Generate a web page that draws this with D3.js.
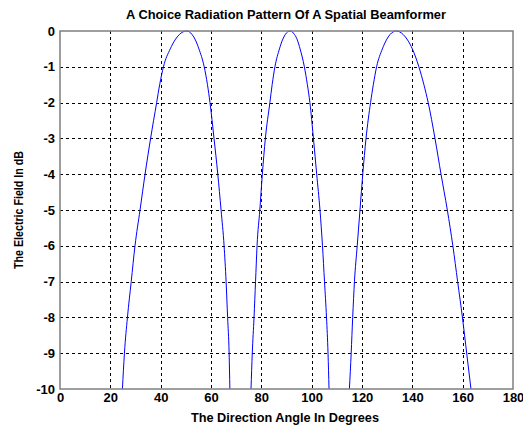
<!DOCTYPE html>
<html>
<head>
<meta charset="utf-8">
<script src="https://cdn.jsdelivr.net/npm/d3@7"></script>
<style>
  html, body { margin: 0; padding: 0; background: #fff; }
  svg text { font-family: "Liberation Sans", Arial, sans-serif; font-weight: bold; fill: #000; }
</style>
</head>
<body>
<svg id="chart" width="523" height="427"></svg>
<script>
// Field level (dB) at which each lobe's edges were sampled
const levels = [0, -0.1, -0.25, -0.5, -1, -1.5, -2, -3, -4, -5, -6, -7, -8, -9, -10];

// Lobe 1: left / right edge angles (degrees) at each level
const lobe1Left  = [50.3, 47.4, 45.7, 43.8, 41.1, 39.6, 38.4, 36.0, 33.8, 31.8, 29.8, 28.3, 26.8, 25.6, 24.8];
const lobe1Right = [50.3, 52.5, 53.8, 55.2, 57.3, 58.6, 59.6, 61.2, 62.7, 64.0, 65.2, 66.0, 66.6, 67.2, 67.5];

// Lobe 2
const lobe2Left  = [91.4, 89.5, 88.4, 87.2, 85.4, 84.3, 83.4, 81.6, 80.4, 79.4, 78.3, 77.7, 77.1, 76.4, 75.9];
const lobe2Right = [91.4, 93.2, 94.3, 95.4, 97.1, 98.3, 99.3, 100.7, 102.0, 103.3, 104.3, 105.1, 105.9, 106.5, 106.9];

// Lobe 3
const lobe3Left  = [133.6, 131.1, 129.7, 128.1, 125.8, 124.5, 123.4, 121.6, 120.3, 119.2, 118.1, 117.0, 116.3, 115.7, 115.0];
const lobe3Right = [133.6, 136.4, 138.1, 140.0, 142.6, 144.6, 146.3, 149.0, 151.4, 153.9, 156.1, 158.0, 159.9, 161.6, 163.3];

const xTicks = [0, 20, 40, 60, 80, 100, 120, 140, 160, 180];
const yTicks = [0, -1, -2, -3, -4, -5, -6, -7, -8, -9, -10];

const titleText = "A Choice Radiation Pattern Of A Spatial Beamformer";
const xLabelText = "The Direction Angle In Degrees";
const yLabelText = "The Electric Field In dB";

const svg = d3.select("#chart");
const plotL = 60, plotR = 513, plotT = 31, plotB = 389;

const x = d3.scaleLinear().domain([0, 180]).range([plotL, plotR]);
const y = d3.scaleLinear().domain([-10, 0]).range([plotB, plotT]);

// Dashed grid
const grid = svg.append("g");
grid.selectAll("line.gx").data(xTicks.slice(1, -1)).join("line")
  .attr("x1", d => Math.round(x(d)) + 0.5).attr("x2", d => Math.round(x(d)) + 0.5)
  .attr("y1", plotT).attr("y2", plotB)
  .attr("stroke", "#000").attr("stroke-width", 1).attr("stroke-dasharray", "3,3");
grid.selectAll("line.gy").data(yTicks.slice(1, -1)).join("line")
  .attr("y1", d => Math.round(y(d)) + 0.5).attr("y2", d => Math.round(y(d)) + 0.5)
  .attr("x1", plotL).attr("x2", plotR)
  .attr("stroke", "#000").attr("stroke-width", 1).attr("stroke-dasharray", "3,3");

// Lobes, each traced from the left edge over the peak to the right edge
const lobes = [
  [lobe1Left, lobe1Right],
  [lobe2Left, lobe2Right],
  [lobe3Left, lobe3Right]
].map(([l, r]) => {
  const pts = [];
  for (let i = levels.length - 1; i >= 0; i--) pts.push([l[i], levels[i]]);
  for (let i = 1; i < levels.length; i++) pts.push([r[i], levels[i]]);
  return pts;
});

svg.append("clipPath").attr("id", "plotClip")
  .append("rect").attr("x", plotL).attr("y", plotT - 1).attr("width", plotR - plotL).attr("height", plotB - plotT + 1);

const line = d3.line().x(d => x(d[0])).y(d => y(d[1])).curve(d3.curveMonotoneX);
svg.append("g").attr("clip-path", "url(#plotClip)")
  .selectAll("path").data(lobes).join("path")
  .attr("d", line)
  .attr("fill", "none").attr("stroke", "#0000ff").attr("stroke-width", 1);

// Axes box
const axisColor = "#7f7f7f";
svg.append("rect").attr("x", plotL).attr("y", plotT).attr("width", plotR - plotL).attr("height", plotB - plotT)
  .attr("fill", "none").attr("stroke", axisColor).attr("stroke-width", 1.5);

// Tick labels
const fmt = d => String(d);
const xAxis = d3.axisBottom(x).tickValues(xTicks).tickSize(0).tickPadding(3).tickFormat(fmt);
const gx = svg.append("g").attr("transform", `translate(0,${plotB})`).call(xAxis);
gx.select(".domain").remove();
gx.selectAll("text").attr("font-size", 13).attr("font-family", "Liberation Sans, Arial, sans-serif")
  .attr("font-weight", "bold").attr("dy", "0.75em");

const yAxis = d3.axisLeft(y).tickValues(yTicks).tickSize(0).tickPadding(5).tickFormat(fmt);
const gy = svg.append("g").attr("transform", `translate(${plotL},0)`).call(yAxis);
gy.select(".domain").remove();
gy.selectAll("text").attr("font-size", 13).attr("font-family", "Liberation Sans, Arial, sans-serif")
  .attr("font-weight", "bold");

// Title and axis labels
svg.append("text").attr("x", 286).attr("y", 19).attr("text-anchor", "middle")
  .attr("font-size", 12).attr("textLength", 320).attr("lengthAdjust", "spacingAndGlyphs")
  .text(titleText);
svg.append("text").attr("x", 285).attr("y", 422).attr("text-anchor", "middle")
  .attr("font-size", 12).attr("textLength", 188).attr("lengthAdjust", "spacingAndGlyphs")
  .text(xLabelText);
svg.append("text").attr("transform", `translate(23,${210}) rotate(-90)`).attr("text-anchor", "middle")
  .attr("font-size", 12).attr("textLength", 118).attr("lengthAdjust", "spacingAndGlyphs")
  .text(yLabelText);
</script>
</body>
</html>
